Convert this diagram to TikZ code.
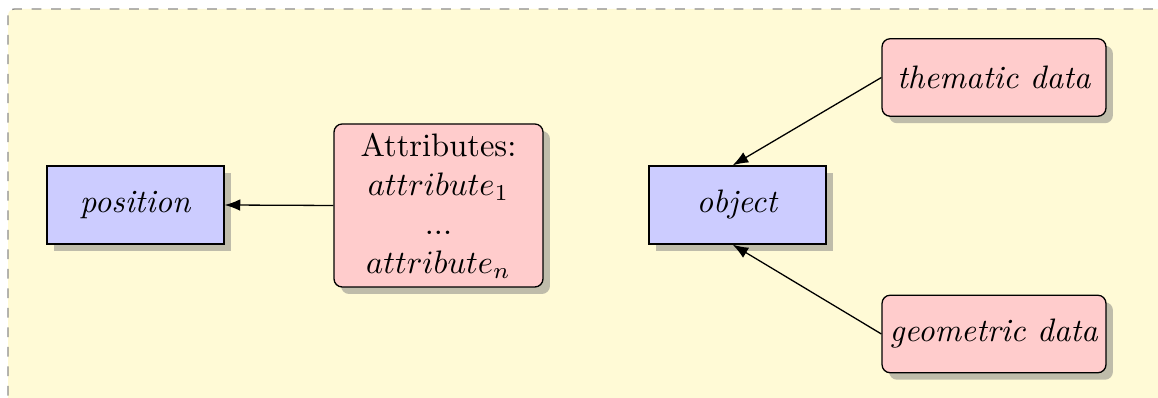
\documentclass[tikz,border=0pt]{standalone}
\usetikzlibrary{shadows,arrows.meta}
\definecolor{bgyellow}{RGB}{255,250,214}
\begin{document}
\begin{tikzpicture}[x=0.30769pt,y=-0.30769pt,
  box/.style={draw=black, drop shadow, inner sep=0pt, align=center},
  bluebox/.style={box, fill=blue!20, minimum width=54.46pt, minimum height=24pt},
  redbox/.style={box, fill=red!20, rounded corners=2.5pt},
  datbox/.style={redbox, minimum width=68.9pt, minimum height=23.85pt},
  arr/.style={-{Latex}}]
\useasboundingbox (0,0) rectangle (1158,398);
\draw[dashed, black!45, fill=bgyellow, rounded corners=2pt] (8,9) rectangle (1166,406);
\node[bluebox] (position) at (135.5,205) {\textit{position}};
\node[redbox, minimum width=64.3pt, minimum height=50.15pt] (attr) at (438.5,205.5)
  {Attributes:\\ $attribute_1$\\ ...\\ $attribute_n$};
\node[bluebox] (object) at (737.5,205) {\textit{object}};
\node[datbox] (thematic) at (994,77.5) {\textit{thematic data}};
\node[datbox] (geometric) at (994,334) {\textit{geometric data}};
\draw[arr] (attr.west) -- (position.east);
\draw[arr] (thematic.west) -- ([xshift=-1.5pt]object.north);
\draw[arr] (geometric.west) -- ([xshift=-1.5pt]object.south);
\end{tikzpicture}
\end{document}
